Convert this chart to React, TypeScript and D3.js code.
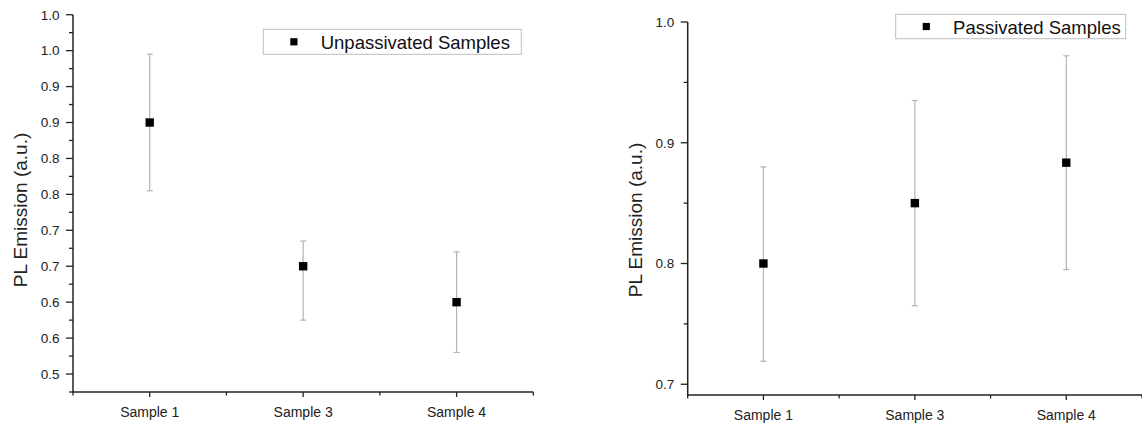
import React from "react";
import * as d3 from "d3";

const categories = ["Sample 1", "Sample 3", "Sample 4"];

const unpassValues = [0.85, 0.65, 0.6];
const unpassUpper = [0.945, 0.685, 0.67];
const unpassLower = [0.755, 0.575, 0.53];

const passValues = [0.8, 0.85, 0.8835];
const passUpper = [0.88, 0.935, 0.972];
const passLower = [0.719, 0.765, 0.795];

const leftTickValues = [1.0, 0.95, 0.9, 0.85, 0.8, 0.75, 0.7, 0.65, 0.6, 0.55, 0.5];
const leftTickLabels = ["1.0", "1.0", "0.9", "0.9", "0.8", "0.8", "0.7", "0.7", "0.6", "0.6", "0.5"];
const leftMinorTicks = [0.975, 0.925, 0.875, 0.825, 0.775, 0.725, 0.675, 0.625, 0.575, 0.525, 0.475];

const rightTickValues = [1.0, 0.9, 0.8, 0.7];
const rightTickLabels = ["1.0", "0.9", "0.8", "0.7"];
const rightMinorTicks = [0.95, 0.85, 0.75];

const xMinorTicks = [0.5, 1.5, 2.5, 3.5];

const FONT = "Arial, 'Liberation Sans', sans-serif";

type PanelProps = {
  x0: number;
  x1: number;
  yTop: number;
  yBottom: number;
  domain: [number, number];
  tickValues: number[];
  tickLabels: string[];
  minorTicks: number[];
  values: number[];
  upper: number[];
  lower: number[];
  legend: string;
  legendBox: [number, number, number, number];
  titleX: number;
  titleY: number;
};

function Panel(p: PanelProps) {
  const x = d3.scaleLinear().domain([0.5, 3.5]).range([p.x0, p.x1]);
  const y = d3.scaleLinear().domain(p.domain).range([p.yBottom, p.yTop]);
  const axisColor = "#222";
  const errColor = "#b4b4b4";
  const [lx, ly, lw, lh] = p.legendBox;
  return (
    <g>
      {/* error bars */}
      {categories.map((c, i) => {
        const cx = x(i + 1);
        return (
          <g key={c}>
            <line x1={cx} x2={cx} y1={y(p.upper[i])} y2={y(p.lower[i])} stroke={errColor} strokeWidth={1.2} />
            <line x1={cx - 3} x2={cx + 3} y1={y(p.upper[i])} y2={y(p.upper[i])} stroke={errColor} strokeWidth={1.2} />
            <line x1={cx - 3} x2={cx + 3} y1={y(p.lower[i])} y2={y(p.lower[i])} stroke={errColor} strokeWidth={1.2} />
            <rect x={cx - 4.2} y={y(p.values[i]) - 4.2} width={8.4} height={8.4} fill="#000" />
          </g>
        );
      })}
      {/* y axis */}
      <line x1={p.x0} x2={p.x0} y1={y(p.domain[1])} y2={p.yBottom} stroke={axisColor} strokeWidth={1.5} />
      {p.tickValues.map((v, i) => (
        <g key={"yt" + i}>
          <line x1={p.x0 - 7} x2={p.x0} y1={y(v)} y2={y(v)} stroke={axisColor} strokeWidth={1.3} />
          <text x={p.x0 - 13.5} y={y(v)} dy="0.36em" textAnchor="end" fontSize={13.5} fontFamily={FONT} fill="#222">
            {p.tickLabels[i]}
          </text>
        </g>
      ))}
      {p.minorTicks.map((v, i) => (
        <line key={"ym" + i} x1={p.x0 - 4} x2={p.x0} y1={y(v)} y2={y(v)} stroke={axisColor} strokeWidth={1.3} />
      ))}
      {/* x axis */}
      <line x1={p.x0 - 0.75} x2={p.x1} y1={p.yBottom} y2={p.yBottom} stroke={axisColor} strokeWidth={1.5} />
      {categories.map((c, i) => (
        <g key={"xt" + c}>
          <line x1={x(i + 1)} x2={x(i + 1)} y1={p.yBottom} y2={p.yBottom + 5} stroke={axisColor} strokeWidth={1.3} />
          <text x={x(i + 1)} y={p.yBottom + 24.5} textAnchor="middle" fontSize={14} fontFamily={FONT} fill="#222">
            {c}
          </text>
        </g>
      ))}
      {xMinorTicks.map((v, i) => (
        <line key={"xm" + i} x1={x(v)} x2={x(v)} y1={p.yBottom} y2={p.yBottom + 3.5} stroke={axisColor} strokeWidth={1.3} />
      ))}
      {/* title */}
      <text
        transform={`translate(${p.titleX},${p.titleY}) rotate(-90)`}
        textAnchor="middle"
        fontSize={19}
        fontFamily={FONT}
        fill="#222"
      >
        PL Emission (a.u.)
      </text>
      {/* legend */}
      <rect x={lx} y={ly} width={lw} height={lh} fill="#fff" stroke="#bdbdbd" strokeWidth={1} />
      <rect x={lx + 27} y={ly + lh / 2 - 3.6} width={7.2} height={7.2} fill="#000" />
      <text x={lx + 57.4} y={ly + 19.2} fontSize={18.5} fontFamily={FONT} fill="#111">
        {p.legend}
      </text>
    </g>
  );
}

export default function App() {
  return (
    <svg
      width={1142}
      height={423}
      style={{ position: "absolute", left: 0, top: 0, background: "#fff" }}
    >
      <rect width={1142} height={423} fill="#fff" />
      <Panel
        x0={73}
        x1={533.3}
        yTop={14.7}
        yBottom={392}
        domain={[0.475, 1.0]}
        tickValues={leftTickValues}
        tickLabels={leftTickLabels}
        minorTicks={leftMinorTicks}
        values={unpassValues}
        upper={unpassUpper}
        lower={unpassLower}
        legend="Unpassivated Samples"
        legendBox={[263.3, 29.3, 258, 25]}
        titleX={26.7}
        titleY={210}
      />
      <Panel
        x0={687.7}
        x1={1142}
        yTop={22}
        yBottom={395}
        domain={[0.6911, 1.0]}
        tickValues={rightTickValues}
        tickLabels={rightTickLabels}
        minorTicks={rightMinorTicks}
        values={passValues}
        upper={passUpper}
        lower={passLower}
        legend="Passivated Samples"
        legendBox={[895.7, 14.3, 230, 24.4]}
        titleX={641.7}
        titleY={220}
      />
    </svg>
  );
}
